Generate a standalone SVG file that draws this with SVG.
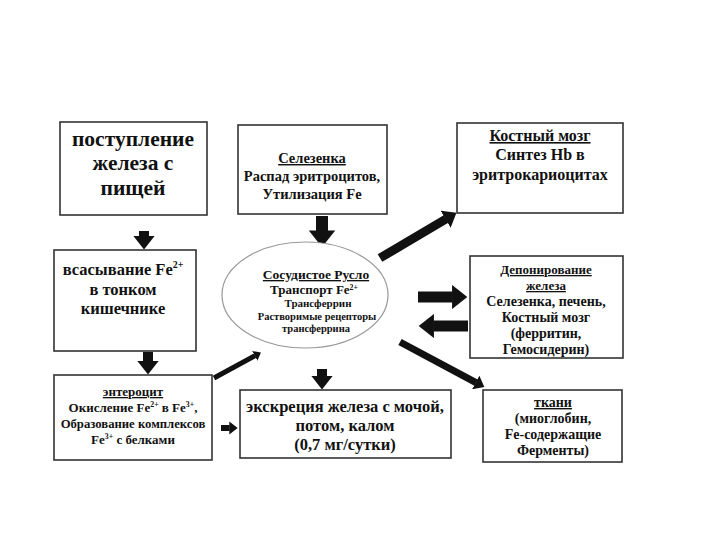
<svg xmlns="http://www.w3.org/2000/svg" width="720" height="540" viewBox="0 0 720 540">
<style>
.box{fill:#fff;stroke:#333;stroke-width:1.6}
text{font-family:"Liberation Serif","DejaVu Serif",serif;font-weight:bold;fill:#111;text-anchor:middle}
.u{text-decoration:underline}
.ar{stroke:#111;fill:none;marker-end:url(#ah)}
.sup{font-size:60%}
</style>
<defs>
<marker id="ah" viewBox="0 0 14 22" markerWidth="1.4" markerHeight="2.2" refX="0.5" refY="11" orient="auto" markerUnits="strokeWidth">
<path d="M0,0 L14,11 L0,22 Z" fill="#111"/>
</marker>
</defs>
<rect width="720" height="540" fill="#fff"/>

<g id="connectors">
<line class="ar" x1="144" y1="231" x2="144" y2="236" stroke-width="10"/>
<line class="ar" x1="148" y1="352" x2="148" y2="361" stroke-width="10"/>
<line class="ar" x1="322" y1="216" x2="322" y2="231" stroke-width="12"/>
<line class="ar" x1="380" y1="258" x2="446" y2="219" stroke-width="9"/>
<line class="ar" x1="418" y1="297" x2="452.6" y2="297" stroke-width="11"/>
<line class="ar" x1="468" y1="326" x2="433.4" y2="326" stroke-width="11"/>
<line class="ar" x1="400" y1="342" x2="476" y2="382.6" stroke-width="7"/>
<line class="ar" x1="214" y1="378" x2="255" y2="355.7" stroke-width="5"/>
<line class="ar" x1="322" y1="369" x2="322" y2="376" stroke-width="10"/>
<line class="ar" x1="221" y1="428" x2="229.6" y2="428" stroke-width="6"/>
</g>

<g id="food">
<rect class="box" x="60" y="122" width="147" height="93"/>
<text font-size="21.5" x="133" y="146">поступление</text>
<text font-size="21.5" x="133" y="170">железа с</text>
<text font-size="21.5" x="133" y="195">пищей</text>
</g>

<g id="spleen">
<rect class="box" x="238" y="125" width="149" height="89"/>
<text font-size="14.5" x="312" y="163" class="u">Селезенка</text>
<text font-size="14.5" x="312" y="181">Распад эритроцитов,</text>
<text font-size="14.5" x="312" y="199">Утилизация Fe</text>
</g>

<g id="marrow">
<rect class="box" x="457" y="123" width="166" height="90"/>
<text font-size="16" x="540" y="141" class="u">Костный мозг</text>
<text font-size="16" x="540" y="160">Синтез Hb в</text>
<text font-size="16" x="540" y="180">эритрокариоцитах</text>
</g>

<g id="absorption">
<rect class="box" x="54" y="250" width="142" height="101"/>
<text font-size="16.5" x="123" y="275">всасывание Fe<tspan class="sup" dy="-7">2+</tspan></text>
<text font-size="16.5" x="123" y="295">в тонком</text>
<text font-size="16.5" x="123" y="314">кишечнике</text>
</g>

<g id="vessel">
<ellipse cx="305" cy="295" rx="83" ry="53" fill="#fff" stroke="#999" stroke-width="1.2"/>
<text font-size="13.5" x="316" y="279" class="u">Сосудистое Русло</text>
<text font-size="13" x="314" y="294">Транспорт Fe<tspan class="sup" dy="-4">2+</tspan></text>
<text font-size="11" x="318" y="307">Трансферрин</text>
<text font-size="10.5" x="317" y="320">Растворимые рецепторы</text>
<text font-size="10.5" x="316" y="332">трансферрина</text>
</g>

<g id="depot">
<rect class="box" x="470" y="256" width="153" height="102"/>
<text font-size="13" x="546" y="274" class="u">Депонирование</text>
<text font-size="13" x="546" y="290" class="u">железа</text>
<text font-size="14" x="546" y="306">Селезенка, печень,</text>
<text font-size="14" x="546" y="322">Костный мозг</text>
<text font-size="14" x="546" y="338">(ферритин,</text>
<text font-size="14" x="546" y="354">Гемосидерин)</text>
</g>

<g id="enterocyte">
<rect class="box" x="54" y="375" width="158" height="85"/>
<text font-size="13" x="133" y="396" class="u">энтероцит</text>
<text font-size="13" x="133" y="412">Окисление Fe<tspan class="sup" dy="-5">2+</tspan><tspan dy="5"> в Fe</tspan><tspan class="sup" dy="-5">3+</tspan><tspan dy="5">,</tspan></text>
<text font-size="12.7" x="133" y="428">Образование комплексов</text>
<text font-size="13" x="133" y="444">Fe<tspan class="sup" dy="-5">3+</tspan><tspan dy="5"> с белками</tspan></text>
</g>

<g id="excretion">
<rect class="box" x="240" y="390" width="211" height="68"/>
<text font-size="16.5" x="345" y="412">экскреция железа с мочой,</text>
<text font-size="16.5" x="345" y="431">потом, калом</text>
<text font-size="16.5" x="345" y="450">(0,7 мг/сутки)</text>
</g>

<g id="tissues">
<rect class="box" x="483" y="390" width="139" height="72"/>
<text font-size="14" x="553" y="407" class="u">ткани</text>
<text font-size="14" x="553" y="423">(миоглобин,</text>
<text font-size="14" x="553" y="439">Fe-содержащие</text>
<text font-size="14" x="553" y="455">Ферменты)</text>
</g>
</svg>
